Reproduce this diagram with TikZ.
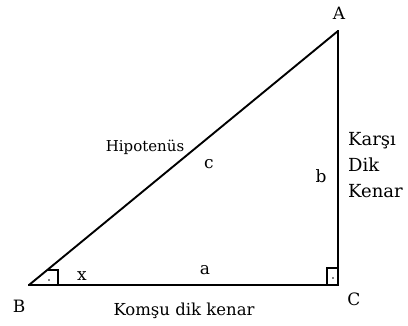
\documentclass[tikz,border=0pt]{standalone}
\usepackage{fontspec}
\setmainfont{DejaVu Serif}
\begin{document}
\begin{tikzpicture}[x=1pt,y=-1pt,
  leg/.style={line width=2.8pt},
  hyp/.style={line width=1.9pt},
  anglemark/.style={line width=1.4pt},
  lbl/.style={font=\fontsize{17}{20}\selectfont, inner sep=0pt, anchor=base},
  hyplbl/.style={font=\fontsize{15}{18}\selectfont, inner sep=0pt, anchor=base},
  botlbl/.style={font=\fontsize{16.5}{20}\selectfont, inner sep=0pt, anchor=base},
  side/.style={font=\fontsize{18}{22}\selectfont, inner sep=0pt, anchor=base west}]
\useasboundingbox (0,0) rectangle (408,326);
\coordinate (B) at (29,285);
\coordinate (C) at (338,285);
\coordinate (A) at (338,31);
\draw[hyp] (B) -- (A);
\draw[leg, line cap=rect] (B) -- (C) -- (A);
% right angle mark at C
\coordinate (c1) at (327,285);
\coordinate (c2) at (327,268);
\coordinate (c3) at (338,268);
\draw[anglemark] (c1) -- (c2) -- (c3);
\fill (333,278) circle (0.8pt);
% angle mark at B
\coordinate (b1) at (48,270);
\coordinate (b2) at (58,270);
\coordinate (b3) at (58,285);
\draw[anglemark] (b1) -- (b2) -- (b3);
\fill (49,280) circle (0.8pt);
% labels
\node[lbl] (lA) at (339,20) {A};
\node[lbl] (lB) at (19,313) {B};
\node[lbl] (lC) at (354,306) {C};
\node[lbl] (lx) at (82,281) {x};
\node[lbl] (la) at (205,275) {a};
\node[lbl] (lc) at (209,169) {c};
\node[lbl] (lb) at (321,183) {b};
\node[hyplbl] (hyptxt) at (145,152) {Hipotenüs};
\node[botlbl] (komsu) at (184,316) {Komşu dik kenar};
\node[side] (k1) at (348,146) {Karşı};
\node[side] (k2) at (348,172) {Dik};
\node[side] (k3) at (348,198) {Kenar};
\end{tikzpicture}
\end{document}
